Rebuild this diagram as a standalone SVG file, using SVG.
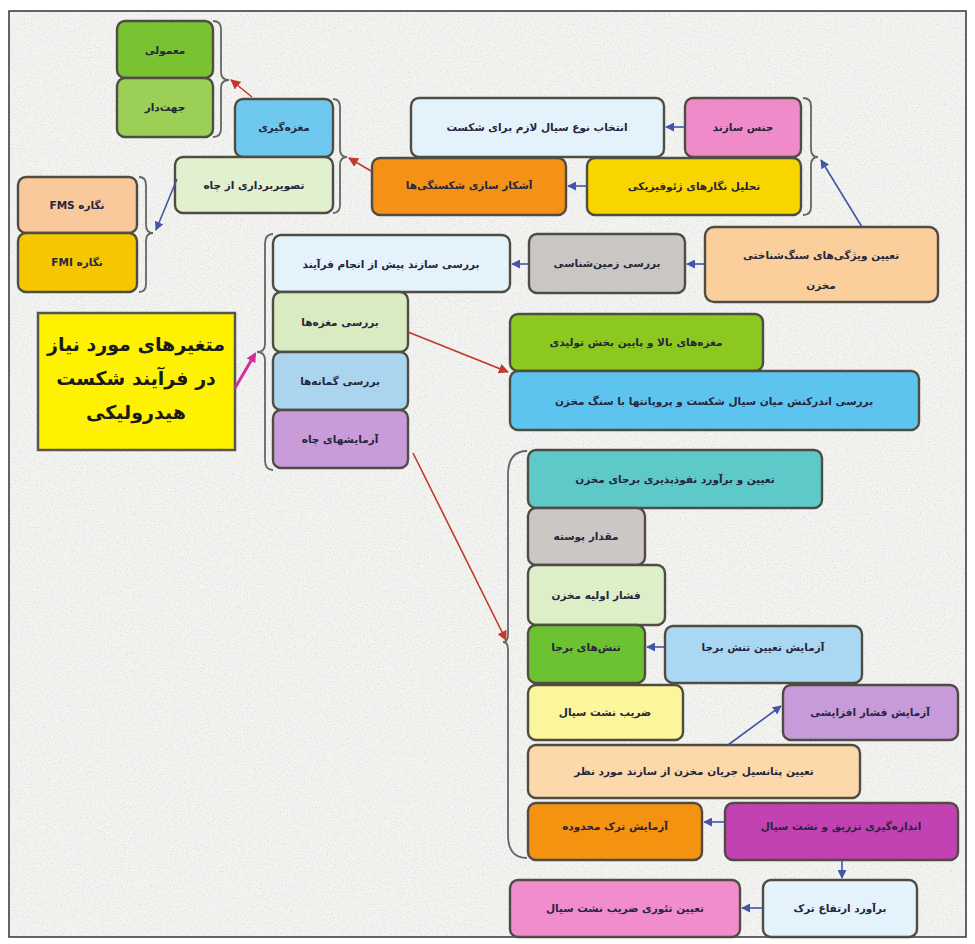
<svg xmlns="http://www.w3.org/2000/svg" width="975" height="944" viewBox="0 0 975 944">
<defs>
<style>
.b{stroke:#4f4c44;stroke-width:2.4}
.t{font-family:"DejaVu Sans",sans-serif;font-size:10.5px;font-weight:bold;fill:#26263c;text-anchor:middle;direction:rtl;dominant-baseline:central}
.tb{font-family:"DejaVu Sans",sans-serif;font-size:19px;font-weight:bold;fill:#1a1a1a;text-anchor:middle;direction:rtl;dominant-baseline:central}
.br{fill:none;stroke:#666;stroke-width:1.8}
.cb{stroke:#4355a6;stroke-width:1.6;fill:none;marker-end:url(#mb)}
.cr{stroke:#c0392b;stroke-width:1.6;fill:none;marker-end:url(#mr)}
.cp{stroke:#d12fa0;stroke-width:3;fill:none;marker-end:url(#mp)}
</style>
<marker id="mb" viewBox="0 0 10 10" refX="9" refY="5" markerWidth="9" markerHeight="9" markerUnits="userSpaceOnUse" orient="auto"><path d="M0,0L10,5L0,10z" fill="#4355a6"/></marker>
<marker id="mr" viewBox="0 0 10 10" refX="9" refY="5" markerWidth="10" markerHeight="10" markerUnits="userSpaceOnUse" orient="auto"><path d="M0,0L10,5L0,10z" fill="#c0392b"/></marker>
<marker id="mp" viewBox="0 0 10 10" refX="8" refY="5" markerWidth="10" markerHeight="10" markerUnits="userSpaceOnUse" orient="auto"><path d="M0,0L10,5L0,10z" fill="#d12fa0"/></marker>
<filter id="paper" x="0" y="0" width="1" height="1">
<feTurbulence type="fractalNoise" baseFrequency="0.7" numOctaves="2" seed="7" result="n"/>
<feColorMatrix in="n" type="matrix" values="0 0 0 0 0.6  0 0 0 0 0.6  0 0 0 0 0.58  2.6 0 0 0 -1.3"/>
</filter>
</defs>
<rect x="0" y="0" width="975" height="944" fill="#ffffff"/>
<rect x="9" y="11" width="957" height="926" fill="#f3f3f1"/>
<rect x="9" y="11" width="957" height="926" fill="#fff" filter="url(#paper)" opacity="0.6"/>
<rect x="9" y="11" width="957" height="926" fill="none" stroke="#333" stroke-width="1.5"/>

<g id="brackets">
<path class="br" d="M213,21 Q221,21 221,29 L221,72 Q221,80 229,80 Q221,80 221,88 L221,129 Q221,137 213,137"/>
<path class="br" d="M333,99 Q340,99 340,107 L340,149 Q340,157 347,157 Q340,157 340,165 L340,205 Q340,213 333,213"/>
<path class="br" d="M139,177 Q146,177 146,185 L146,225 Q146,233 153,233 Q146,233 146,241 L146,284 Q146,292 139,292"/>
<path class="br" d="M803,98 Q811,98 811,106 L811,149 Q811,157 818,157 Q811,157 811,165 L811,207 Q811,215 803,215"/>
<path class="br" d="M273,234 Q265,234 265,244 L265,344 Q265,352 257,352 Q265,352 265,360 L265,460 Q265,470 273,470"/>
<path class="br" d="M527,451 Q508,451 508,475 L508,635 Q508,642 503,642 Q508,642 508,649 L508,835 Q508,858 527,858"/>
</g>

<g id="n1"><rect class="b" x="117" y="21" width="96" height="57" rx="8" fill="#79c232"/><text class="t" x="165" y="50">معمولی</text></g>
<g id="n2"><rect class="b" x="117" y="78" width="96" height="59" rx="8" fill="#9ccf55"/><text class="t" x="165" y="107">جهت‌دار</text></g>
<g id="n3"><rect class="b" x="235" y="99" width="98" height="58" rx="8" fill="#6fc8ee"/><text class="t" x="284" y="127">مغزه‌گیری</text></g>
<g id="n4"><rect class="b" x="175" y="157" width="158" height="56" rx="8" fill="#e1f0cf"/><text class="t" x="254" y="185">تصویربرداری از چاه</text></g>
<g id="n5"><rect class="b" x="18" y="177" width="119" height="56" rx="8" fill="#f9c99c"/><text class="t" x="77" y="205">نگاره FMS</text></g>
<g id="n6"><rect class="b" x="18" y="233" width="119" height="59" rx="8" fill="#f6c600"/><text class="t" x="77" y="262">نگاره FMI</text></g>

<g id="n7"><rect class="b" x="411" y="98" width="253" height="59" rx="8" fill="#e4f3fb"/><text class="t" x="537" y="127">انتخاب نوع سیال لازم برای شکست</text></g>
<g id="n8"><rect class="b" x="685" y="98" width="116" height="59" rx="8" fill="#ef8bc9"/><text class="t" x="743" y="127">جنس سازند</text></g>
<g id="n9"><rect class="b" x="372" y="158" width="194" height="57" rx="8" fill="#f39217"/><text class="t" x="469" y="185">آشکار سازی شکستگی‌ها</text></g>
<g id="n10"><rect class="b" x="587" y="158" width="214" height="57" rx="8" fill="#f9d500"/><text class="t" x="694" y="186">تحلیل نگارهای ژئوفیزیکی</text></g>
<g id="n11"><rect class="b" x="705" y="227" width="233" height="75" rx="9" fill="#fbcf9b"/><text class="t" x="821" y="255">تعیین ویژگی‌های سنگ‌شناختی</text><text class="t" x="821" y="285">مخزن</text></g>
<g id="n12"><rect class="b" x="529" y="234" width="156" height="59" rx="8" fill="#cac6c4"/><text class="t" x="607" y="263">بررسی زمین‌شناسی</text></g>
<g id="n13"><rect class="b" x="273" y="235" width="237" height="57" rx="8" fill="#e4f3fb"/><text class="t" x="391" y="264">بررسی سازند پیش از انجام فرآیند</text></g>

<g id="n14"><rect x="38" y="313" width="197" height="137" fill="#fff200" stroke="#555" stroke-width="2.5"/><text class="tb" x="136" y="344">متغیرهای مورد نیاز</text><text class="tb" x="136" y="378">در فرآیند شکست</text><text class="tb" x="136" y="412">هیدرولیکی</text></g>
<g id="n15"><rect class="b" x="273" y="292" width="135" height="60" rx="8" fill="#d9ecc1"/><text class="t" x="340" y="322">بررسی مغزه‌ها</text></g>
<g id="n16"><rect class="b" x="273" y="352" width="135" height="58" rx="8" fill="#abd4ef"/><text class="t" x="340" y="381">بررسی گمانه‌ها</text></g>
<g id="n17"><rect class="b" x="273" y="410" width="135" height="58" rx="8" fill="#c99bd9"/><text class="t" x="340" y="439">آزمایشهای چاه</text></g>
<g id="n18"><rect class="b" x="510" y="314" width="253" height="57" rx="8" fill="#8dc821"/><text class="t" x="636" y="342">مغزه‌های بالا و پایین بخش تولیدی</text></g>
<g id="n19"><rect class="b" x="510" y="371" width="409" height="59" rx="8" fill="#5cc4ef"/><text class="t" x="714" y="401">بررسی اندرکنش میان سیال شکست و پروپانتها با سنگ مخزن</text></g>

<g id="n20"><rect class="b" x="528" y="450" width="294" height="58" rx="8" fill="#5ec9c9"/><text class="t" x="675" y="479">تعیین و برآورد نفوذپذیری برجای مخزن</text></g>
<g id="n21"><rect class="b" x="528" y="508" width="117" height="57" rx="8" fill="#ccc7c5"/><text class="t" x="586" y="536">مقدار پوسته</text></g>
<g id="n22"><rect class="b" x="528" y="565" width="137" height="60" rx="8" fill="#ddefc9"/><text class="t" x="596" y="595">فشار اولیه مخزن</text></g>
<g id="n23"><rect class="b" x="528" y="625" width="117" height="58" rx="8" fill="#6cc230"/><text class="t" x="586" y="647">تنش‌های برجا</text></g>
<g id="n24"><rect class="b" x="665" y="626" width="197" height="57" rx="8" fill="#aad7f3"/><text class="t" x="763" y="647">آزمایش تعیین تنش برجا</text></g>
<g id="n25"><rect class="b" x="528" y="685" width="155" height="55" rx="8" fill="#fbf59b"/><text class="t" x="605" y="712">ضریب نشت سیال</text></g>
<g id="n26"><rect class="b" x="783" y="685" width="175" height="55" rx="8" fill="#c79bd9"/><text class="t" x="870" y="712">آزمایش فشار افزایشی</text></g>
<g id="n27"><rect class="b" x="528" y="745" width="332" height="53" rx="8" fill="#fbd9aa"/><text class="t" x="694" y="771">تعیین پتانسیل جریان مخزن از سازند مورد نظر</text></g>
<g id="n28"><rect class="b" x="528" y="803" width="174" height="57" rx="8" fill="#f59210"/><text class="t" x="615" y="826">آزمایش ترک محدوده</text></g>
<g id="n29"><rect class="b" x="725" y="803" width="233" height="57" rx="8" fill="#c242b3"/><text class="t" x="841" y="826">اندازه‌گیری تزریق و نشت سیال</text></g>
<g id="n30"><rect class="b" x="763" y="880" width="154" height="57" rx="8" fill="#e4f3fb"/><text class="t" x="840" y="908">برآورد ارتفاع ترک</text></g>
<g id="n31"><rect class="b" x="510" y="880" width="230" height="57" rx="8" fill="#f28dcd"/><text class="t" x="625" y="908">تعیین تئوری ضریب نشت سیال</text></g>

<g id="connectors">
<path class="cr" d="M252,97 L231,80"/>
<path class="cr" d="M371,171 L349,158"/>
<path class="cb" d="M177,179 L156,230"/>
<path class="cb" d="M685,127 L666,127"/>
<path class="cb" d="M587,186 L568,186"/>
<path class="cb" d="M862,227 L821,160"/>
<path class="cb" d="M705,264 L687,264"/>
<path class="cb" d="M529,264 L512,264"/>
<path class="cp" d="M235,388 L255,354"/>
<path class="cr" d="M408,332 L508,372"/>
<path class="cr" d="M413,453 L506,640"/>
<path class="cb" d="M665,647 L647,647"/>
<path class="cb" d="M728,745 L781,706"/>
<path class="cb" d="M725,822 L704,822"/>
<path class="cb" d="M842,860 L842,878"/>
<path class="cb" d="M763,908 L742,908"/>
</g>
</svg>
